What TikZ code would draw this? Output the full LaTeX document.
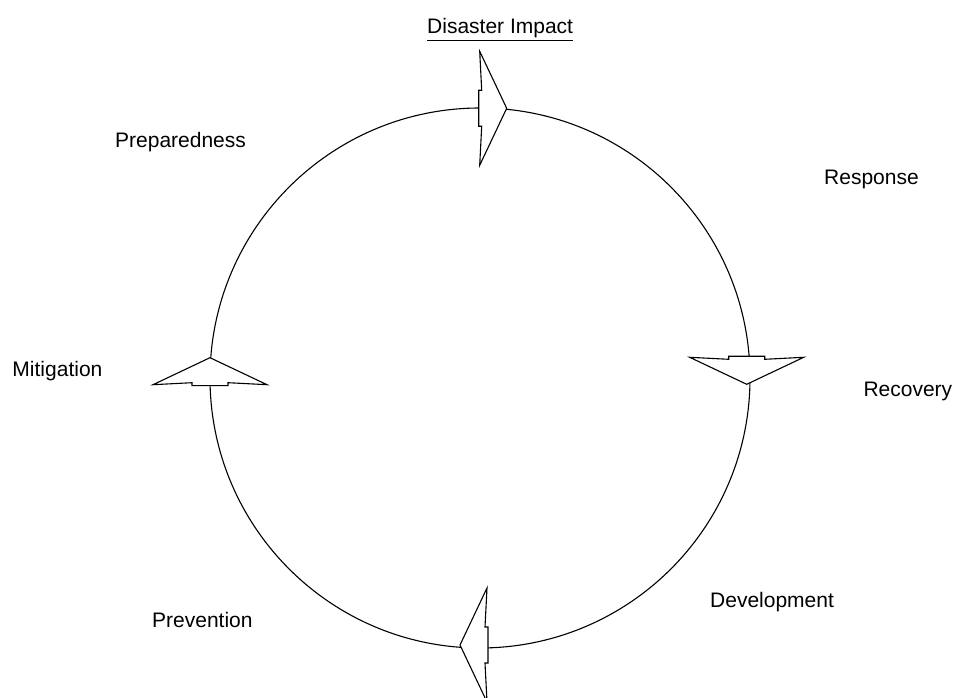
\documentclass[tikz,border=0pt]{standalone}
\usepackage{fontspec}
\setmainfont{Liberation Sans}

\tikzset{
  phase/.style={anchor=base west,inner sep=0pt,font=\fontsize{21}{25}\selectfont},
  cyclearrow/.pic={
    \draw [fill=white,line width=1.1pt,line join=miter]
      (0,0) -- (-27,57) -- (-25,18) -- (-28,18) -- (-28,-18)
      -- (-25,-18) -- (-27,-57) -- cycle;
  }
}

\begin{document}
\begin{tikzpicture}
    [x=1pt,y=1pt]

    \useasboundingbox (0,0) rectangle (954,697);

    % cycle:
    \node (cycle) at (480,319) [circle,draw,line width=1.1pt,minimum size=540pt,inner sep=0pt] {};

    % arrows on the cycle:
    \pic at (506.7,588.7) {cyclearrow};
    \pic [rotate=-90] at (746.7,312.7) {cyclearrow};
    \pic [rotate=180] at (460,52) {cyclearrow};
    \pic [rotate=90] at (210,339.3) {cyclearrow};

    % phases:
    \node (impact) at (427,663) [phase] {\underline{Disaster Impact}};
    \node (response) at (824,512) [phase] {Response};
    \node (recovery) at (863.3,300.3) [phase] {Recovery};
    \node (development) at (710,89.3) [phase] {Development};
    \node (prevention) at (152,70) [phase] {Prevention};
    \node (mitigation) at (12.3,320.3) [phase] {Mitigation};
    \node (preparedness) at (115,549) [phase] {Preparedness};

  \end{tikzpicture}
\end{document}
